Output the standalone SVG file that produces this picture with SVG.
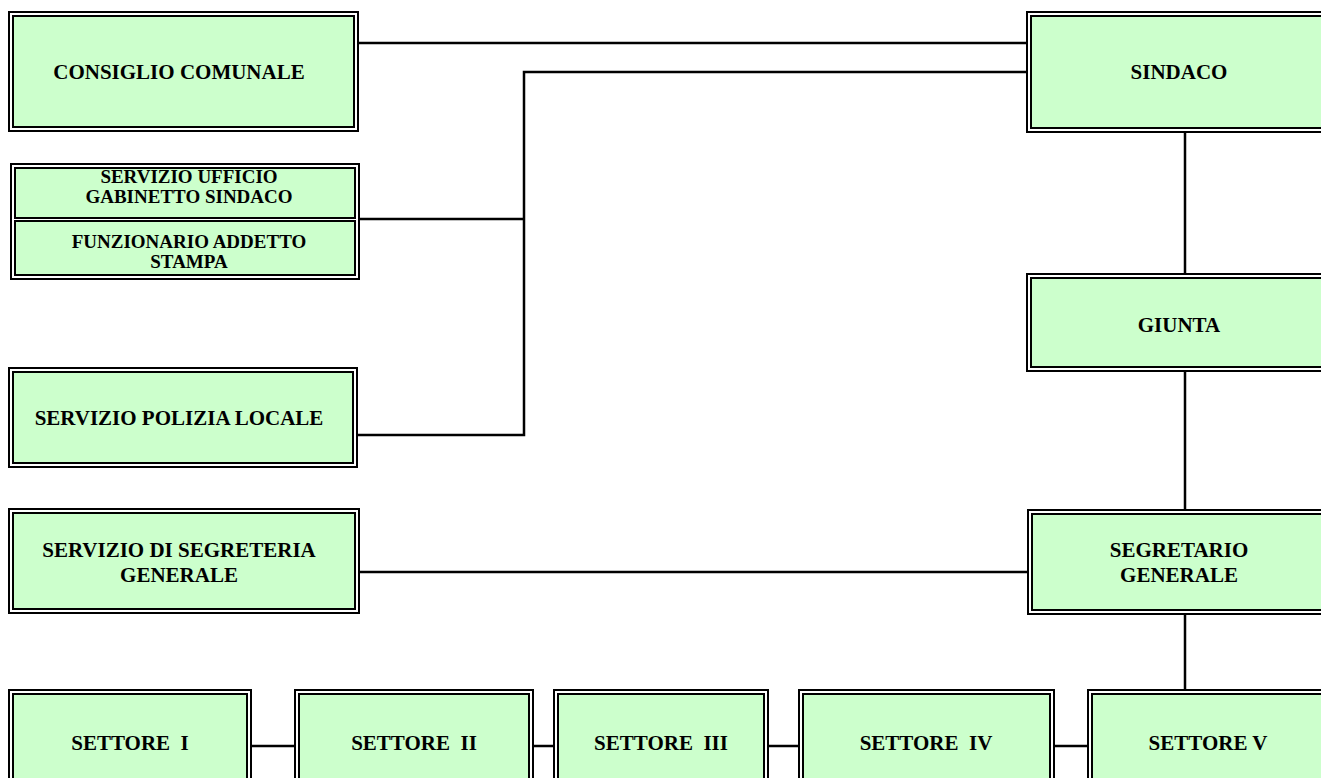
<svg xmlns="http://www.w3.org/2000/svg" width="1321" height="778" viewBox="0 0 1321 778">
<style>
.o{fill:none;stroke:#000;stroke-width:2}
.i{fill:#CCFFCC;stroke:#000;stroke-width:2}
.t{font-family:"Liberation Serif","Times New Roman",serif;font-weight:bold;font-size:21px;fill:#000;text-anchor:middle;white-space:pre}
.s{font-size:19px}
.c{fill:none;stroke:#000;stroke-width:2.5}
</style>
<rect width="1321" height="778" fill="#fff"/>
<g id="connectors">
<path class="c" d="M359 43H1026"/>
<path class="c" d="M524 72H1026M524 70.75V436.25M360 219H524M358 435H524"/>
<path class="c" d="M1185 133V273M1185 372V509M1185 615V689"/>
<path class="c" d="M360 572H1027"/>
<path class="c" d="M252 746H294M534 746H553M769 746H798M1055 746H1087"/>
</g>
<g id="consiglio">
<rect class="o" x="9" y="12" width="349" height="119"/>
<rect class="i" x="13" y="16" width="341" height="111"/>
<text class="t" x="179" y="79">CONSIGLIO COMUNALE</text>
</g>
<g id="sindaco">
<rect class="o" x="1027" y="12" width="308" height="120"/>
<rect class="i" x="1031" y="16" width="300" height="112"/>
<text class="t" x="1179" y="79">SINDACO</text>
</g>
<g id="gabinetto">
<rect class="o" x="11" y="164" width="348" height="115"/>
<rect class="i" x="15" y="168" width="340" height="50"/>
<rect class="i" x="15" y="221" width="340" height="54"/>
<text class="t s" x="189" y="183">SERVIZIO UFFICIO</text>
<text class="t s" x="189" y="203">GABINETTO SINDACO</text>
<text class="t s" x="189" y="248">FUNZIONARIO ADDETTO</text>
<text class="t s" x="189" y="268">STAMPA</text>
</g>
<g id="giunta">
<rect class="o" x="1027" y="274" width="308" height="97"/>
<rect class="i" x="1031" y="278" width="300" height="89"/>
<text class="t" x="1179" y="332">GIUNTA</text>
</g>
<g id="polizia">
<rect class="o" x="9" y="368" width="348" height="99"/>
<rect class="i" x="13" y="372" width="340" height="91"/>
<text class="t" x="179" y="425">SERVIZIO POLIZIA LOCALE</text>
</g>
<g id="segreteria">
<rect class="o" x="9" y="509" width="350" height="104"/>
<rect class="i" x="13" y="513" width="342" height="96"/>
<text class="t" x="179" y="557">SERVIZIO DI SEGRETERIA</text>
<text class="t" x="179" y="582">GENERALE</text>
</g>
<g id="segretario">
<rect class="o" x="1028" y="510" width="307" height="104"/>
<rect class="i" x="1032" y="514" width="299" height="96"/>
<text class="t" x="1179" y="557">SEGRETARIO</text>
<text class="t" x="1179" y="582">GENERALE</text>
</g>
<g id="settore1">
<rect class="o" x="9" y="690" width="242" height="110"/>
<rect class="i" x="13" y="694" width="234" height="110"/>
<text class="t" x="130" y="750">SETTORE  I</text>
</g>
<g id="settore2">
<rect class="o" x="295" y="690" width="238" height="110"/>
<rect class="i" x="299" y="694" width="230" height="110"/>
<text class="t" x="414" y="750">SETTORE  II</text>
</g>
<g id="settore3">
<rect class="o" x="554" y="690" width="214" height="110"/>
<rect class="i" x="558" y="694" width="206" height="110"/>
<text class="t" x="661" y="750">SETTORE  III</text>
</g>
<g id="settore4">
<rect class="o" x="799" y="690" width="255" height="110"/>
<rect class="i" x="803" y="694" width="247" height="110"/>
<text class="t" x="926" y="750">SETTORE  IV</text>
</g>
<g id="settore5">
<rect class="o" x="1088" y="690" width="247" height="110"/>
<rect class="i" x="1092" y="694" width="239" height="110"/>
<text class="t" x="1208" y="750">SETTORE V</text>
</g>
</svg>
